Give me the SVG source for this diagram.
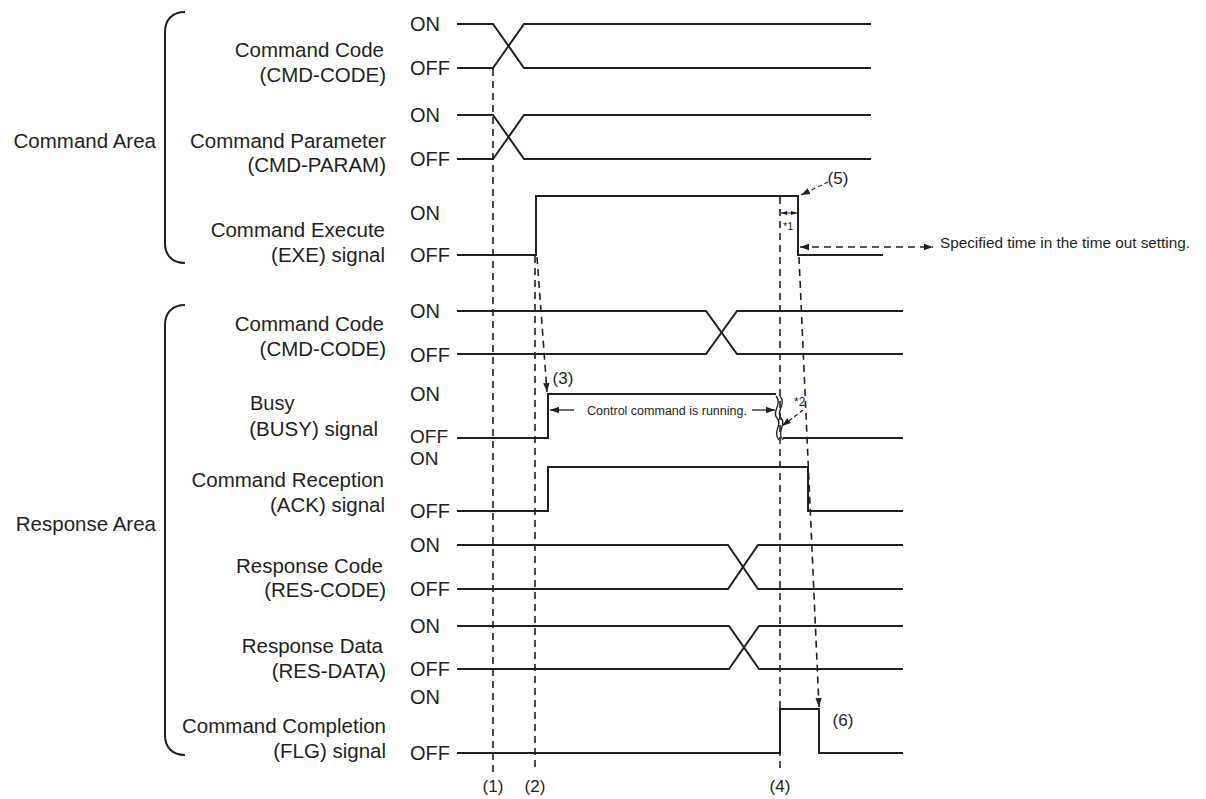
<svg xmlns="http://www.w3.org/2000/svg" width="1206" height="799" viewBox="0 0 1206 799">
<defs>
<style>
text{font-family:"Liberation Sans",Arial,sans-serif;fill:#231f20}
.lbl{font-size:20.5px;text-anchor:end}
.st{font-size:20px}
.st19{font-size:19px}
.num{font-size:17px;text-anchor:middle}
.sig{fill:none;stroke:#231f20;stroke-width:2}
.dash{fill:none;stroke:#231f20;stroke-width:1.6;stroke-dasharray:7,5}
.dsm{fill:none;stroke:#231f20;stroke-width:1.2;stroke-dasharray:4,3}
.sol{fill:none;stroke:#231f20;stroke-width:1.3}
.brace{fill:none;stroke:#231f20;stroke-width:2}
</style>
<marker id="ah" viewBox="0 0 10 10" refX="10" refY="5" markerWidth="9" markerHeight="9" markerUnits="userSpaceOnUse" orient="auto-start-reverse"><path d="M0,1.5 L10,5 L0,8.5 z" fill="#231f20"/></marker>
<marker id="ahs" viewBox="0 0 10 10" refX="10" refY="5" markerWidth="6" markerHeight="6" markerUnits="userSpaceOnUse" orient="auto-start-reverse"><path d="M0,1.5 L10,5 L0,8.5 z" fill="#231f20"/></marker>
</defs>
<rect width="1206" height="799" fill="#ffffff"/>

<g id="area-labels">
<text class="lbl" x="156" y="148">Command Area</text>
<path class="brace" d="M185,12 C172,12 165,20 165,32 L165,243 C165,255 172,263 185,263"/>
<text class="lbl" x="156" y="531">Response Area</text>
<path class="brace" d="M185,305 C172,305 165,313 165,325 L165,735 C165,747 172,755 185,755"/>
</g>

<g id="sig-cmd-code">
<text class="lbl" x="384" y="57">Command Code</text>
<text class="lbl" x="386" y="82">(CMD-CODE)</text>
<text class="st" x="410" y="31">ON</text>
<text class="st" x="410" y="75">OFF</text>
<polyline class="sig" points="457,24 493,24 524,68 871,68"/>
<polyline class="sig" points="457,68 493,68 524,24 871,24"/>
</g>

<g id="sig-cmd-param">
<text class="lbl" x="386" y="148">Command Parameter</text>
<text class="lbl" x="386" y="172">(CMD-PARAM)</text>
<text class="st" x="410" y="122">ON</text>
<text class="st" x="410" y="166">OFF</text>
<polyline class="sig" points="457,115 493,115 524,159 871,159"/>
<polyline class="sig" points="457,159 493,159 524,115 871,115"/>
</g>

<g id="sig-exe">
<text class="lbl" x="385" y="237">Command Execute</text>
<text class="lbl" x="385" y="262">(EXE) signal</text>
<text class="st" x="410" y="220">ON</text>
<text class="st" x="410" y="262">OFF</text>
<polyline class="sig" points="457,255 536,255 536,196 798,196 798,255 883,255"/>
</g>

<g id="sig-res-cmd-code">
<text class="lbl" x="384" y="331">Command Code</text>
<text class="lbl" x="386" y="356">(CMD-CODE)</text>
<text class="st" x="410" y="318">ON</text>
<text class="st" x="410" y="362">OFF</text>
<polyline class="sig" points="457,311 706,311 737,354 903,354"/>
<polyline class="sig" points="457,354 706,354 737,311 903,311"/>
</g>

<g id="sig-busy">
<text class="st" x="250" y="410">Busy</text>
<text class="lbl" x="378" y="436">(BUSY) signal</text>
<text class="st" x="410" y="401">ON</text>
<text class="st19" x="410" y="443">OFF</text>
<polyline class="sig" points="457,438 548,438 548,394 776,394"/>
<polyline class="sig" points="783,438 903,438"/>
<path class="sol" d="M776,396 C783,404 771,412 777,418 C783,424 772,432 779,440"/>
<path class="sol" d="M780,396 C787,404 775,412 781,418 C787,424 776,432 783,440"/>
<text x="667" y="415" style="font-size:12.5px;text-anchor:middle">Control command is running.</text>
<line class="sol" x1="574" y1="410" x2="550" y2="410" marker-end="url(#ah)"/>
<line class="sol" x1="752" y1="410" x2="775" y2="410" marker-end="url(#ah)"/>
</g>

<g id="sig-ack">
<text class="lbl" x="384" y="487">Command Reception</text>
<text class="lbl" x="385" y="512">(ACK) signal</text>
<text class="st19" x="410" y="465">ON</text>
<text class="st" x="410" y="518">OFF</text>
<polyline class="sig" points="457,511 548,511 548,467 808,467 808,511 903,511"/>
</g>

<g id="sig-res-code">
<text class="lbl" x="383" y="573">Response Code</text>
<text class="lbl" x="386" y="597">(RES-CODE)</text>
<text class="st" x="410" y="552">ON</text>
<text class="st" x="410" y="596">OFF</text>
<polyline class="sig" points="457,545 728,545 758,589 903,589"/>
<polyline class="sig" points="457,589 728,589 758,545 903,545"/>
</g>

<g id="sig-res-data">
<text class="lbl" x="383" y="653">Response Data</text>
<text class="lbl" x="386" y="678">(RES-DATA)</text>
<text class="st" x="410" y="633">ON</text>
<text class="st" x="410" y="676">OFF</text>
<polyline class="sig" points="457,626 729,626 759,669 903,669"/>
<polyline class="sig" points="457,669 729,669 759,626 903,626"/>
</g>

<g id="sig-flg">
<text class="lbl" x="386" y="733">Command Completion</text>
<text class="lbl" x="386" y="758">(FLG) signal</text>
<text class="st" x="410" y="704">ON</text>
<text class="st" x="410" y="760">OFF</text>
<polyline class="sig" points="457,753 780,753 780,709 819,709 819,753 903,753"/>
</g>

<g id="connectors">
<line class="dash" x1="493" y1="69" x2="493" y2="772"/>
<line class="dash" x1="535" y1="256" x2="535" y2="772"/>
<line class="dash" x1="780" y1="197" x2="780" y2="772"/>
<line class="dash" x1="537" y1="257" x2="547" y2="392" marker-end="url(#ah)"/>
<line class="dash" x1="799" y1="257" x2="819" y2="707" marker-end="url(#ah)"/>
<line class="dsm" x1="828" y1="182" x2="801" y2="195" marker-end="url(#ah)"/>
<line class="sol" x1="781" y1="213" x2="797" y2="213" marker-start="url(#ahs)" marker-end="url(#ahs)" style="stroke-width:1"/>
<line class="dash" x1="800" y1="247" x2="933" y2="247" marker-start="url(#ah)" marker-end="url(#ah)"/>
<line class="dsm" x1="803" y1="410" x2="782" y2="426" marker-end="url(#ah)"/>
</g>

<g id="annotations">
<text class="num" x="493" y="792">(1)</text>
<text class="num" x="535" y="792">(2)</text>
<text class="num" x="780" y="792">(4)</text>
<text class="num" x="563" y="384">(3)</text>
<text class="num" x="838" y="184">(5)</text>
<text class="num" x="843" y="726">(6)</text>
<text x="783" y="230" style="font-size:11px">*1</text>
<text x="794" y="406" style="font-size:12px">*2</text>
<text x="940" y="248" style="font-size:15.3px">Specified time in the time out setting.</text>
</g>
</svg>
